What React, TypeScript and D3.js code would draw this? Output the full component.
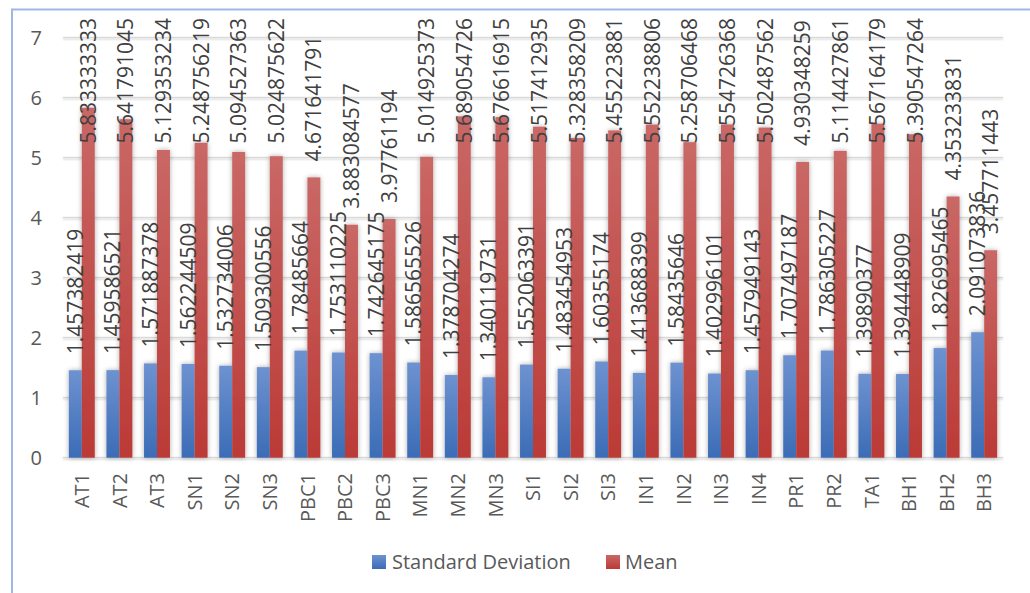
import React, { useMemo } from "react";
import * as d3 from "d3";

const categories = [
  "AT1", "AT2", "AT3", "SN1", "SN2", "SN3", "PBC1", "PBC2", "PBC3", "MN1",
  "MN2", "MN3", "SI1", "SI2", "SI3", "IN1", "IN2", "IN3", "IN4", "PR1",
  "PR2", "TA1", "BH1", "BH2", "BH3",
];

const stdDev = [
  1.457382419, 1.459586521, 1.571887378, 1.562244509, 1.532734006, 1.509300556,
  1.78485664, 1.753110225, 1.742645175, 1.586565526, 1.378704274, 1.340119731,
  1.552063391, 1.483454953, 1.60355174, 1.413688399, 1.58435646, 1.402996101,
  1.457949143, 1.707497187, 1.786305227, 1.39890377, 1.394448909, 1.826995465,
  2.091073836,
];

const mean = [
  5.833333333, 5.641791045, 5.129353234, 5.248756219, 5.094527363, 5.024875622,
  4.671641791, 3.883084577, 3.97761194, 5.014925373, 5.689054726, 5.676616915,
  5.517412935, 5.328358209, 5.455223881, 5.552238806, 5.258706468, 5.554726368,
  5.502487562, 4.930348259, 5.114427861, 5.567164179, 5.390547264, 4.353233831,
  3.457711443,
];

const yTicks = [0, 1, 2, 3, 4, 5, 6, 7];
const seriesNames = ["Standard Deviation", "Mean"];

const W = 1030;
const H = 593;
const plot = { left: 63, right: 1003, top: 37.7, bottom: 457.7 };
const FONT = "'Open Sans', 'DejaVu Sans', sans-serif";
const LABEL_SIZE = 21;
const TEXT_COLOR = "#595959";

function useTextWidth() {
  return useMemo(() => {
    const canvas = document.createElement("canvas");
    const ctx = canvas.getContext("2d");
    return (s: string, size: number) => {
      if (!ctx) return s.length * size * 0.55;
      ctx.font = `${size}px 'Open Sans'`;
      return ctx.measureText(s).width;
    };
  }, []);
}

export default function App() {
  const measure = useTextWidth();

  const x0 = d3.scaleBand<string>().domain(categories).range([plot.left, plot.right]).paddingInner(0).paddingOuter(0);
  const x1 = d3.scaleBand<string>().domain(seriesNames).range([0, x0.bandwidth()]).paddingInner(0).paddingOuter(0.45);
  const y = d3.scaleLinear().domain([0, 7]).range([plot.bottom, plot.top]);

  const series = [
    { name: seriesNames[0], values: stdDev, grad: "gradBlue" },
    { name: seriesNames[1], values: mean, grad: "gradRed" },
  ];

  const labelTopLimit = 18;

  return (
    <svg
      width={W}
      height={H}
      style={{ position: "absolute", left: 0, top: 0, background: "#fff" }}
      fontFamily={FONT}
    >
      <defs>
        <linearGradient id="gradBlue" x1="0" y1="0" x2="0" y2="1">
          <stop offset="0" stopColor="#6e92d0" />
          <stop offset="1" stopColor="#3b6cb6" />
        </linearGradient>
        <linearGradient id="gradRed" x1="0" y1="0" x2="0" y2="1">
          <stop offset="0" stopColor="#c96866" />
          <stop offset="1" stopColor="#bb3a36" />
        </linearGradient>
        <filter id="barShadow" x="-50%" y="-5%" width="200%" height="110%">
          <feDropShadow dx="0" dy="0" stdDeviation="2.4" floodColor="#000" floodOpacity="0.32" />
        </filter>
        <filter id="lineShadow" x="-5%" y="-200%" width="110%" height="500%">
          <feDropShadow dx="0" dy="0.8" stdDeviation="0.8" floodColor="#000" floodOpacity="0.25" />
        </filter>
      </defs>

      {/* chart frame */}
      <rect x={12} y={9.5} width={W + 20} height={H + 20} fill="none" stroke="#9db7e6" strokeWidth={2} />

      {/* gridlines */}
      <g filter="url(#lineShadow)">
        {yTicks.map((t) => (
          <line
            key={t}
            x1={plot.left}
            x2={plot.right}
            y1={y(t)}
            y2={y(t)}
            stroke="#d9d9d9"
            strokeWidth={1.3}
          />
        ))}
      </g>

      {/* y axis labels */}
      {yTicks.map((t) => (
        <text
          key={t}
          x={42}
          y={y(t)}
          dy="0.35em"
          textAnchor="end"
          fontSize={20}
          fill={TEXT_COLOR}
        >
          {t}
        </text>
      ))}

      {/* bars */}
      <g filter="url(#barShadow)">
        {categories.map((c, i) =>
          series.map((s) => {
            const v = s.values[i];
            const bx = (x0(c) ?? 0) + (x1(s.name) ?? 0);
            return (
              <rect
                key={c + s.name}
                x={bx}
                y={y(v)}
                width={x1.bandwidth()}
                height={y(0) - y(v)}
                fill={`url(#${s.grad})`}
              />
            );
          })
        )}
      </g>

      {/* data labels */}
      {categories.map((c, i) =>
        series.map((s) => {
          const v = s.values[i];
          const cx = (x0(c) ?? 0) + (x1(s.name) ?? 0) + x1.bandwidth() / 2;
          const txt = String(v);
          const w = measure(txt, LABEL_SIZE);
          let bottom = y(v) - 16;
          if (bottom - w < labelTopLimit) bottom = labelTopLimit + w;
          return (
            <text
              key={"l" + c + s.name}
              transform={`translate(${cx},${bottom}) rotate(-90)`}
              dy="0.36em"
              textAnchor="start"
              fontSize={LABEL_SIZE}
              fill="#404040"
            >
              {txt}
            </text>
          );
        })
      )}

      {/* category labels */}
      {categories.map((c) => (
        <text
          key={"c" + c}
          transform={`translate(${(x0(c) ?? 0) + x0.bandwidth() / 2},${473}) rotate(-90)`}
          dy="0.36em"
          textAnchor="end"
          fontSize={20}
          fill={TEXT_COLOR}
        >
          {c}
        </text>
      ))}

      {/* legend */}
      <g>
        <rect x={372} y={555} width={14} height={14} fill="url(#gradBlue)" />
        <text x={392} y={569} fontSize={20} fill={TEXT_COLOR}>
          {seriesNames[0]}
        </text>
        <rect x={606} y={555} width={14} height={14} fill="url(#gradRed)" />
        <text x={625} y={569} fontSize={20} fill={TEXT_COLOR}>
          {seriesNames[1]}
        </text>
      </g>
    </svg>
  );
}
